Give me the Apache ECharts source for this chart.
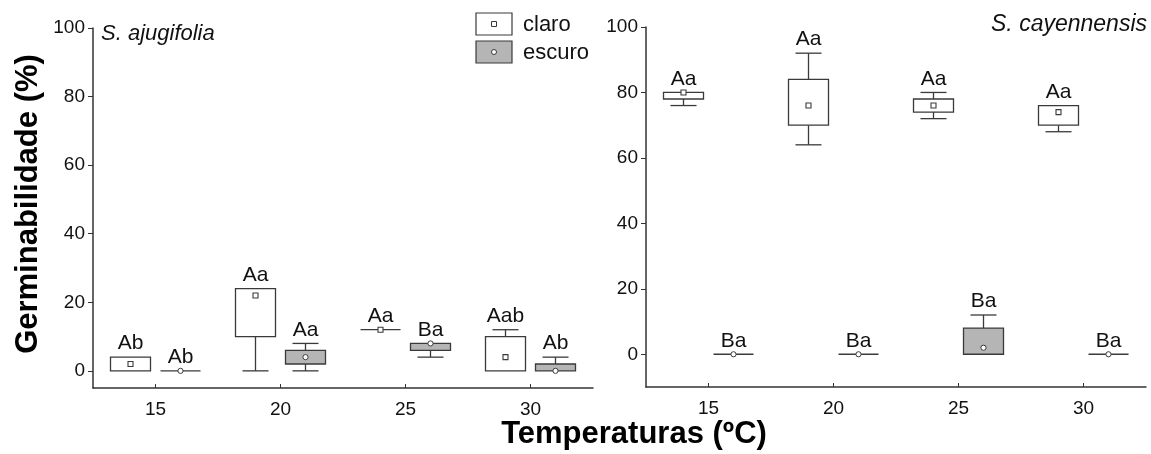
<!DOCTYPE html>
<html><head><meta charset="utf-8">
<script src="https://cdn.jsdelivr.net/npm/echarts@6/dist/echarts.min.js"></script>
<style>html,body{margin:0;padding:0;background:#fff}#c{width:1151px;height:454px}</style>
</head><body><div id="c"></div>
<script>
// ---- data ----
const temps = [15, 20, 25, 30];
const xTicks = [15, 20, 25, 30];
const yTicks = [0, 20, 40, 60, 80, 100];
// each entry: [min, q1, median, q3, max]
const ajuClaro  = [[0,0,2,4,4],[0,10,22,24,24],[12,12,12,12,12],[0,0,4,10,12]];
const ajuEscuro = [[0,0,0,0,0],[0,2,4,6,8],[4,6,8,8,8],[0,0,0,2,4]];
const cayClaro  = [[76,78,80,80,80],[64,70,76,84,92],[72,74,76,78,80],[68,70,74,76,76]];
const cayEscuro = [[0,0,0,0,0],[0,0,0,0,0],[0,0,2,8,12],[0,0,0,0,0]];
const ajuClaroLetters  = ['Ab','Aa','Aa','Aab'];
const ajuEscuroLetters = ['Ab','Aa','Ba','Ab'];
const cayClaroLetters  = ['Aa','Aa','Aa','Aa'];
const cayEscuroLetters = ['Ba','Ba','Ba','Ba'];

const FONT = '"Liberation Sans", Arial, sans-serif';
const INK = '#3a3a3a';
const GRAY = '#b5b5b5';

function boxRender(offset, fill, marker, letters) {
  return function (params, api) {
    const t = api.value(0) + offset;
    const v = [1,2,3,4,5].map(i => api.value(i));
    const p = v.map(val => api.coord([t, val]));
    const cx = p[0][0];
    const hw = 20, cw = 13;
    const ls = { stroke: INK, lineWidth: 1.3, fill: null };
    const ch = [];
    if (v[0] < v[1]) {
      ch.push({ type: 'line', shape: { x1: cx, y1: p[0][1], x2: cx, y2: p[1][1] }, style: ls });
      ch.push({ type: 'line', shape: { x1: cx - cw, y1: p[0][1], x2: cx + cw, y2: p[0][1] }, style: ls });
    }
    if (v[4] > v[3]) {
      ch.push({ type: 'line', shape: { x1: cx, y1: p[4][1], x2: cx, y2: p[3][1] }, style: ls });
      ch.push({ type: 'line', shape: { x1: cx - cw, y1: p[4][1], x2: cx + cw, y2: p[4][1] }, style: ls });
    }
    ch.push({ type: 'rect', shape: { x: cx - hw, y: p[3][1], width: 2 * hw, height: p[1][1] - p[3][1] },
      style: { fill: fill, stroke: INK, lineWidth: 1.3 } });
    if (marker === 'square') {
      ch.push({ type: 'rect', shape: { x: cx - 2.5, y: p[2][1] - 2.5, width: 5, height: 5 },
        style: { fill: '#fff', stroke: INK, lineWidth: 1.1 } });
    } else {
      ch.push({ type: 'circle', shape: { cx: cx, cy: p[2][1], r: 2.6 },
        style: { fill: '#fff', stroke: INK, lineWidth: 1 } });
    }
    ch.push({ type: 'text', x: cx, y: p[4][1] - 3,
      style: { text: letters[params.dataIndex], fill: '#111', fontSize: 21, fontFamily: FONT,
        align: 'center', verticalAlign: 'bottom' } });
    return { type: 'group', children: ch };
  };
}

function seriesFor(idx, stats, offset, fill, marker, letters) {
  return {
    type: 'custom', xAxisIndex: idx, yAxisIndex: idx,
    renderItem: boxRender(offset, fill, marker, letters),
    encode: { x: 0, y: [1, 5] },
    data: temps.map((t, i) => [t].concat(stats[i])),
    clip: false, silent: true
  };
}

function xAx(idx) {
  return {
    type: 'value', gridIndex: idx, min: 12.5, max: 32.5,
    splitLine: { show: false },
    axisLine: { show: true, onZero: false, lineStyle: { color: '#333', width: 1.5 } },
    axisTick: { show: true, inside: true, length: 4, customValues: xTicks, lineStyle: { color: '#333' } },
    axisLabel: { customValues: xTicks, fontSize: 19, color: '#111', fontFamily: FONT, margin: 12 }
  };
}
function yAx(idx, min) {
  return {
    type: 'value', gridIndex: idx, min: min, max: 100,
    splitLine: { show: false },
    axisLine: { show: true, onZero: false, lineStyle: { color: '#333', width: 1.5 } },
    axisTick: { show: true, length: 5, customValues: yTicks, lineStyle: { color: '#333' } },
    axisLabel: { customValues: yTicks, fontSize: 19, color: '#111', fontFamily: FONT, margin: 8 }
  };
}

const chart = echarts.init(document.getElementById('c'), null, { renderer: 'canvas' });
chart.setOption({
  backgroundColor: '#fff',
  animation: false,
  grid: [
    { left: 93, top: 28, width: 500, bottom: 66 },
    { left: 646, top: 27, width: 500, bottom: 67 }
  ],
  xAxis: [xAx(0), xAx(1)],
  yAxis: [yAx(0, -5), yAx(1, -10)],
  series: [
    seriesFor(0, ajuClaro, -1, '#fff', 'square', ajuClaroLetters),
    seriesFor(0, ajuEscuro, 1, GRAY, 'circle', ajuEscuroLetters),
    seriesFor(1, cayClaro, -1, '#fff', 'square', cayClaroLetters),
    seriesFor(1, cayEscuro, 1, GRAY, 'circle', cayEscuroLetters)
  ],
  graphic: [
    { type: 'text', x: 101, y: 34, style: { text: 'S. ajugifolia', fontSize: 22, fontStyle: 'italic', fontFamily: FONT, fill: '#111', align: 'left', verticalAlign: 'middle' } },
    { type: 'text', x: 1147, y: 25, style: { text: 'S. cayennensis', fontSize: 23, fontStyle: 'italic', fontFamily: FONT, fill: '#111', align: 'right', verticalAlign: 'middle' } },
    { type: 'rect', shape: { x: 476, y: 13, width: 36, height: 22 }, style: { fill: '#fff', stroke: INK, lineWidth: 1.2 } },
    { type: 'rect', shape: { x: 491.5, y: 21.5, width: 5, height: 5 }, style: { fill: '#fff', stroke: INK, lineWidth: 1 } },
    { type: 'rect', shape: { x: 476, y: 41, width: 36, height: 22 }, style: { fill: GRAY, stroke: INK, lineWidth: 1.2 } },
    { type: 'circle', shape: { cx: 494, cy: 52, r: 2.5 }, style: { fill: '#fff', stroke: INK, lineWidth: 1 } },
    { type: 'text', x: 523, y: 25, style: { text: 'claro', fontSize: 22, fontFamily: FONT, fill: '#111', align: 'left', verticalAlign: 'middle' } },
    { type: 'text', x: 523, y: 53, style: { text: 'escuro', fontSize: 22, fontFamily: FONT, fill: '#111', align: 'left', verticalAlign: 'middle' } },
    { type: 'text', x: 28, y: 204, rotation: Math.PI / 2, style: { text: 'Germinabilidade (%)', fontSize: 31, fontWeight: 'bold', fontFamily: FONT, fill: '#000', align: 'center', verticalAlign: 'middle' } },
    { type: 'text', x: 634, y: 434, style: { text: 'Temperaturas (ºC)', fontSize: 31, fontWeight: 'bold', fontFamily: FONT, fill: '#000', align: 'center', verticalAlign: 'middle' } }
  ]
});
</script>
</body></html>
